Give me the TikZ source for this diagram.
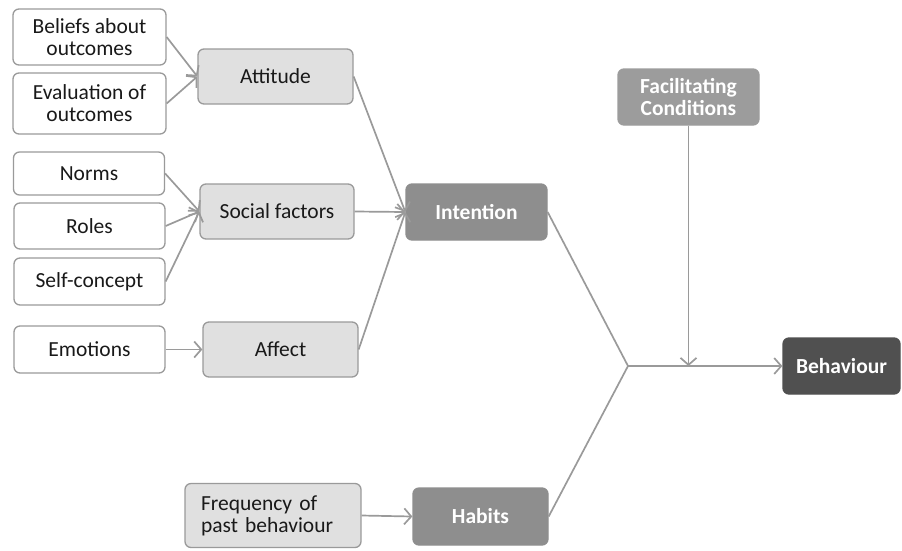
\documentclass[tikz,border=0pt]{standalone}
\usepackage{fontspec}
\setmainfont{Carlito}
\usetikzlibrary{arrows.meta}
\definecolor{edgegray}{HTML}{9A9A9A}
\definecolor{lightfill}{HTML}{E0E0E0}
\definecolor{midfill}{HTML}{8E8E8E}
\definecolor{facfill}{HTML}{9C9C9C}
\definecolor{darkfill}{HTML}{505050}
\tikzset{
  base/.style={rounded corners=6pt, line width=1.3pt, font=\fontsize{21.5}{22}\selectfont, inner sep=2pt, align=center},
  whitebox/.style={base, draw=edgegray, fill=white, text=black!90},
  lightbox/.style={base, draw=edgegray, fill=lightfill, text=black!90},
  boldtext/.style={font=\fontsize{21.5}{22}\selectfont\bfseries, text=white},
  midbox/.style={base, draw=midfill, fill=midfill, boldtext},
  facbox/.style={base, draw=facfill, fill=facfill, boldtext},
  darkbox/.style={base, draw=darkfill, fill=darkfill, boldtext},
  conn/.style={draw=edgegray, line width=1.7pt},
  arr/.style={conn, -{Straight Barb[length=7pt,width=16pt]}}
}
\begin{document}
\begin{tikzpicture}[x=1pt,y=-1pt]
\useasboundingbox (0,0) rectangle (902,550);
% left column
\node[whitebox, minimum width=153pt, minimum height=56pt] (bel) at (89.5,37) {Beliefs about\\outcomes};
\node[whitebox, minimum width=153pt, minimum height=61pt] (eva) at (89.5,103.5) {Evaluation of\\outcomes};
\node[whitebox, minimum width=151pt, minimum height=43pt] (nor) at (89,173.5) {Norms};
\node[whitebox, minimum width=151pt, minimum height=46pt] (rol) at (89.5,226) {Roles};
\node[whitebox, minimum width=151pt, minimum height=47pt] (sel) at (89.5,281.5) {Self-concept};
\node[whitebox, minimum width=151pt, minimum height=47pt] (emo) at (89.5,349.5) {Emotions};
\node[lightbox, minimum width=176pt, minimum height=64pt, align=left, text width=144pt] (fre) at (273,515.5) {Frequency of\\past behaviour};
% middle column
\node[lightbox, minimum width=155pt, minimum height=55pt] (att) at (275.5,76.5) {Attitude};
\node[lightbox, minimum width=154pt, minimum height=55pt] (soc) at (277,211.5) {Social factors};
\node[lightbox, minimum width=155pt, minimum height=55pt] (aff) at (280.5,349.5) {Affect};
% right part
\node[midbox, minimum width=141pt, minimum height=56pt] (int) at (476.5,212) {Intention};
\node[midbox, minimum width=135pt, minimum height=57pt] (hab) at (480.5,516.5) {Habits};
\node[facbox, minimum width=141pt, minimum height=56pt] (fac) at (688.5,97) {Facilitating\\Conditions};
\node[darkbox, minimum width=117pt, minimum height=56pt] (beh) at (841.5,366) {Behaviour};
\coordinate (j) at (628,366);
% connectors
\draw[arr] (bel.east) -- (att.west);
\draw[arr] (eva.east) -- (att.west);
\draw[arr] (nor.east) -- (soc.west);
\draw[arr] (rol.east) -- (soc.west);
\draw[arr] (sel.east) -- (soc.west);
\draw[arr] (emo.east) -- (aff.west);
\draw[arr] (fre.east) -- (hab.west);
\draw[arr] (att.east) -- (int.west);
\draw[arr] (soc.east) -- (int.west);
\draw[arr] (aff.east) -- (int.west);
\draw[conn] (int.east) -- (j);
\draw[conn] (hab.east) -- (j);
\draw[arr] (j) -- (beh.west);
\draw[arr] (fac.south) -- (fac.south |- j);
\end{tikzpicture}
\end{document}
